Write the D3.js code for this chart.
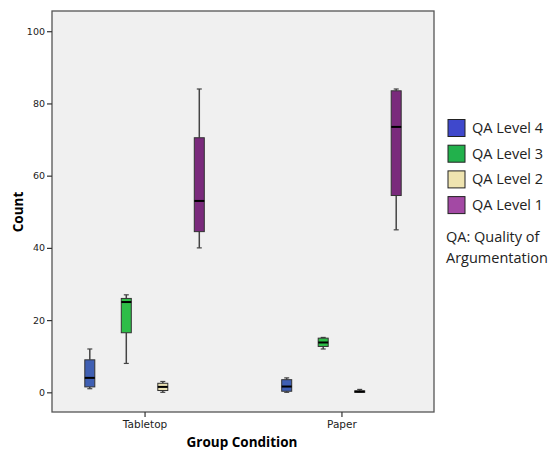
<!DOCTYPE html>
<html>
<head>
<meta charset="utf-8">
<script src="https://cdn.jsdelivr.net/npm/d3@7"></script>
<style>
  body { margin: 0; background: #fff; }
  svg { display: block; }
</style>
</head>
<body>
<svg id="chart" width="553" height="451"></svg>
<script>
// ---- Data ----
const groups = ["Tabletop", "Paper"];
const levels = ["QA Level 4", "QA Level 3", "QA Level 2", "QA Level 1"];
// [whiskerLow, q1, median, q3, whiskerHigh] per level, per group
const tabletopStats = [
  [1, 1.5, 4, 9, 12],
  [8, 16.5, 25, 26, 27],
  [0, 0.5, 1.5, 2.5, 3],
  [40, 44.5, 53, 70.5, 84]
];
const paperStats = [
  [0, 0.3, 1.6, 3.5, 4],
  [12, 12.7, 13.8, 15, 15.2],
  [0, 0, 0.2, 0.4, 0.8],
  [45, 54.5, 73.5, 83.5, 84]
];
const yTicks = [0, 20, 40, 60, 80, 100];
const boxColors = ["#3f5fb3", "#2ebd48", "#e9e0b2", "#7a2a7c"];
const legendColors = ["#3f48cc", "#22b14c", "#efe4b0", "#a349a4"];
const noteLines = ["QA: Quality of", "Argumentation"];

// ---- Layout ----
const svg = d3.select("#chart");
const L = 52, R = 434, T = 11, B = 412;

const y = d3.scaleLinear().domain([-5.45, 105.6]).range([B, T]);
const x = d3.scalePoint().domain(groups).range([L, R]).padding(0.47);
const xi = d3.scaleBand().domain(levels).range([-73, 73]).paddingInner(0.726).paddingOuter(0.363);

// plot background
svg.append("rect").attr("x", L).attr("y", T).attr("width", R - L).attr("height", B - T)
  .attr("fill", "#f0f0f0").attr("stroke", "none");

// boxes
const statsByGroup = { "Tabletop": tabletopStats, "Paper": paperStats };
groups.forEach(g => {
  statsByGroup[g].forEach((s, i) => {
    const lev = levels[i];
    const cx = x(g) + xi(lev) + xi.bandwidth() / 2;
    const w = xi.bandwidth();
    const gg = svg.append("g");
    // whiskers
    gg.append("line").attr("x1", cx).attr("x2", cx).attr("y1", y(s[0])).attr("y2", y(s[1]))
      .attr("stroke", "#444").attr("stroke-width", 1.5);
    gg.append("line").attr("x1", cx).attr("x2", cx).attr("y1", y(s[3])).attr("y2", y(s[4]))
      .attr("stroke", "#444").attr("stroke-width", 1.5);
    // caps
    [s[0], s[4]].forEach(v => {
      gg.append("line").attr("x1", cx - 2.5).attr("x2", cx + 2.5).attr("y1", y(v)).attr("y2", y(v))
        .attr("stroke", "#444").attr("stroke-width", 1.2);
    });
    // box
    gg.append("rect").attr("x", cx - w / 2).attr("y", y(s[3])).attr("width", w)
      .attr("height", Math.max(1, y(s[1]) - y(s[3])))
      .attr("fill", boxColors[i]).attr("stroke", "#333").attr("stroke-width", 1);
    // median
    gg.append("line").attr("x1", cx - w / 2).attr("x2", cx + w / 2).attr("y1", y(s[2])).attr("y2", y(s[2]))
      .attr("stroke", "#000").attr("stroke-width", 2);
  });
});

// frame
svg.append("rect").attr("x", L).attr("y", T).attr("width", R - L).attr("height", B - T)
  .attr("fill", "none").attr("stroke", "#555").attr("stroke-width", 1.3);

// y axis
const yAxis = d3.axisLeft(y).tickValues(yTicks).tickSize(5).tickPadding(2).tickFormat(d3.format("d"));
const ya = svg.append("g").attr("transform", `translate(${L},0)`).call(yAxis);
ya.select(".domain").remove();
ya.selectAll(".tick line").attr("stroke", "#333").attr("stroke-width", 1.2);
ya.selectAll(".tick text").attr("font-family", "DejaVu Sans").attr("font-size", 9.5).attr("fill", "#222");

// x axis
const xAxis = d3.axisBottom(x).tickSize(5).tickPadding(4);
const xa = svg.append("g").attr("transform", `translate(0,${B})`).call(xAxis);
xa.select(".domain").remove();
xa.selectAll(".tick line").attr("stroke", "#333").attr("stroke-width", 1.2);
xa.selectAll(".tick text").attr("font-family", "DejaVu Sans").attr("font-size", 10.5).attr("fill", "#222");

// axis titles
svg.append("text").attr("transform", "translate(23,212) rotate(-90)").attr("text-anchor", "middle")
  .attr("font-family", "Open Sans").attr("font-weight", "bold").attr("font-size", 13.5).attr("fill", "#000")
  .text("Count");
svg.append("text").attr("x", 242).attr("y", 447).attr("text-anchor", "middle")
  .attr("font-family", "Open Sans").attr("font-weight", "bold").attr("font-size", 13.5).attr("fill", "#000")
  .text("Group Condition");

// legend
const lg = svg.append("g");
levels.forEach((lev, i) => {
  const cy = 128 + i * 25.7;
  lg.append("rect").attr("x", 448).attr("y", cy - 8.5).attr("width", 17).attr("height", 17)
    .attr("fill", legendColors[i]).attr("stroke", "#222").attr("stroke-width", 1);
  lg.append("text").attr("x", 472).attr("y", cy + 5).attr("font-family", "Open Sans")
    .attr("font-size", 14.5).attr("fill", "#222").text(lev);
});
noteLines.forEach((t, i) => {
  svg.append("text").attr("x", 446).attr("y", 242 + i * 20.6).attr("font-family", "Open Sans")
    .attr("font-size", 14.5).attr("fill", "#222").text(t);
});
</script>
</body>
</html>
